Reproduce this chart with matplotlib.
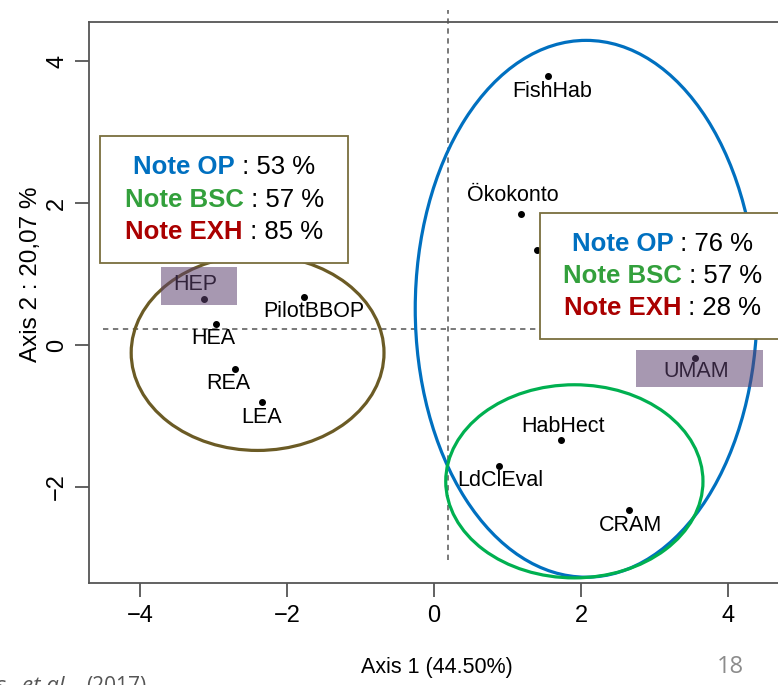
import matplotlib
matplotlib.use("Agg")
import matplotlib.pyplot as plt
from matplotlib.patches import Ellipse, Rectangle
from matplotlib.offsetbox import TextArea, HPacker, VPacker, AnnotationBbox

SANS = ['Liberation Sans', 'DejaVu Sans']
OPEN = ['Open Sans', 'DejaVu Sans']

# points of the map
names = ['FishHab', 'Ökokonto', '', 'HEP', 'PilotBBOP', 'HEA', 'REA', 'LEA',
         'UMAM', 'HabHect', 'LdClEval', 'CRAM']
x = [1.55, 1.18, 1.40, -3.13, -1.77, -2.97, -2.71, -2.34, 3.55, 1.73, 0.88, 2.65]
y = [3.79, 1.85, 1.34, 0.65, 0.68, 0.30, -0.34, -0.80, -0.18, -1.34, -1.70, -2.32]
# label offsets (points) from each dot
lab_dx = [3, -6, 0, -6, 7, -2, -5, 0, 1, 1, 1, 1]
lab_dy = [-11, 13, 0, 10, -11, -11, -10, -11, -10, 10, -11, -11]

# group ellipses: centre x, centre y, width, height
ell_cx = [-2.40, 2.07, 1.91]
ell_cy = [-0.11, 0.51, -1.92]
ell_w = [3.44, 4.65, 3.50]
ell_h = [2.75, 7.56, 2.72]
ell_col = ['#6B5B25', '#0070C0', '#00B050']

# note boxes
note_names = ['Note OP', 'Note BSC', 'Note EXH']
note_cols = ['#0070C0', '#33A03C', '#AA0000']
left_scores = [53, 57, 85]
right_scores = [76, 57, 28]

xlim = (-4.694, 4.844)
ylim = (-3.352, 4.549)
xticks = [-4, -2, 0, 2, 4]
yticks = [-2, 0, 2, 4]

fig = plt.figure(figsize=(7.78, 6.85), dpi=100)
ax = fig.add_axes([0.1144, 0.1489, 0.901, 0.819])
ax.set_xlim(*xlim)
ax.set_ylim(*ylim)

for s in ax.spines.values():
    s.set_color('#555555')
    s.set_linewidth(1.3)

ax.set_xticks(xticks)
ax.set_yticks(yticks)
ax.set_xticklabels(['\u2212%d' % -t if t < 0 else str(t) for t in xticks],
                   family=SANS, fontsize=17)
ax.set_yticklabels(['\u2212%d' % -t if t < 0 else str(t) for t in yticks],
                   family=SANS, fontsize=17, rotation=90, va='center')
ax.tick_params(axis='both', direction='out', length=10, width=1.3, color='#555555')
ax.tick_params(axis='x', pad=6)
ax.tick_params(axis='y', pad=5)

# reference lines
ax.plot([-4.50, 4.9], [0.225, 0.225], color='#555555', lw=1.1,
        ls=(0, (3.5, 3)), zorder=1)
ax.plot([0.19, 0.19], [-3.03, 4.72], color='#555555', lw=1.1,
        ls=(0, (3.5, 3)), zorder=1, clip_on=False)

for cx, cy, w, h, c in zip(ell_cx, ell_cy, ell_w, ell_h, ell_col):
    ax.add_patch(Ellipse((cx, cy), w, h, fill=False, edgecolor=c, lw=2.3, zorder=2))

ax.plot(x, y, 'o', color='black', ms=4, zorder=3)
for n, xi, yi, dx, dy in zip(names, x, y, lab_dx, lab_dy):
    if n:
        ax.annotate(n, (xi, yi), xytext=(dx, dy), textcoords='offset points',
                    ha='center', va='center', fontsize=15.5, family=SANS, zorder=3)

# purple highlight over HEP and UMAM
ax.add_patch(Rectangle((-3.71, 0.56), 1.03, 0.54, facecolor='#5D416F',
                       alpha=0.54, lw=0, zorder=4))
ax.add_patch(Rectangle((2.75, -0.59), 1.73, 0.52, facecolor='#5D416F',
                       alpha=0.54, lw=0, zorder=4))


def note_box(x0, y0, x1, y1, scores):
    ax.add_patch(Rectangle((x0, y0), x1 - x0, y1 - y0, facecolor='white',
                           edgecolor='#7A6E3E', lw=1.3, zorder=5, clip_on=False))
    rows = []
    for nm, col, sc in zip(note_names, note_cols, scores):
        a = TextArea(nm, textprops=dict(color=col, fontweight='bold', fontsize=18.5,
                                        family=SANS))
        b = TextArea(' : %d %%' % sc, textprops=dict(color='black', fontsize=18.5,
                                                     family=SANS))
        rows.append(HPacker(children=[a, b], align='baseline', pad=0, sep=0))
    box = VPacker(children=rows, align='center', pad=0, sep=6)
    ab = AnnotationBbox(box, ((x0 + x1) / 2, (y0 + y1) / 2), frameon=False,
                        box_alignment=(0.5, 0.5), zorder=6)
    ax.add_artist(ab)


note_box(-4.54, 1.15, -1.17, 2.94, left_scores)
note_box(1.44, 0.08, 4.78, 1.86, right_scores)

fig.text(437 / 778, 1 - 667 / 685, 'Axis 1 (44.50%)', ha='center', va='center',
         fontsize=15.5, family=SANS)
fig.text(31 / 778, 1 - 274 / 685, 'Axis 2 : 20,07 %', ha='center', va='center',
         rotation=90, fontsize=17.5, family=SANS)
fig.text(730 / 778, 1 - 667 / 685, '18', ha='center', va='center',
         fontsize=17, color='#8C8C8C', family=OPEN)

# citation, cut at the bottom edge as in the slide
base = -0.010
fig.text(-0.004, base, 's,', ha='left', va='baseline', fontsize=15,
         color='#555555', family=OPEN)
fig.text(22 / 778, base, 'et al.', ha='left', va='baseline', fontsize=16,
         color='#555555', style='italic', family=OPEN)
fig.text(86 / 778, base, '(2017)', ha='left', va='baseline', fontsize=15,
         color='#555555', family=OPEN)

fig.savefig('out.png', dpi=100)
